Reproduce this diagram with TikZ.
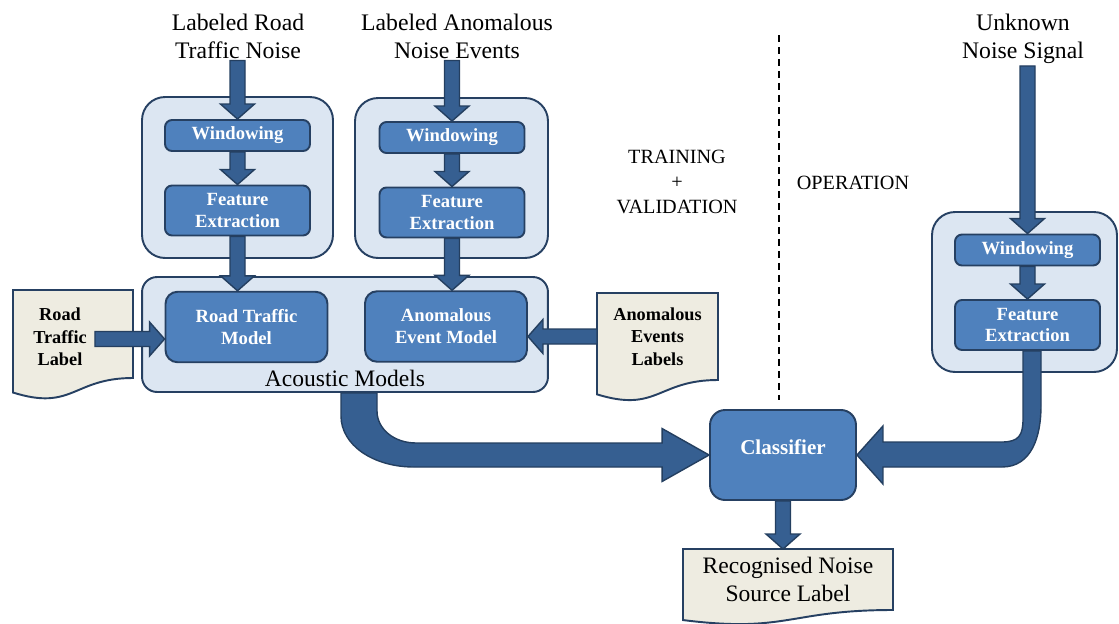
\documentclass[tikz,border=0pt]{standalone}
\usepackage{fontspec}
\setmainfont{Liberation Serif}
\usetikzlibrary{positioning, calc, backgrounds}

\definecolor{grpfill}{RGB}{220,230,242}
\definecolor{grpline}{RGB}{38,64,98}
\definecolor{boxfill}{RGB}{79,129,189}
\definecolor{boxline}{RGB}{38,64,98}
\definecolor{arrfill}{RGB}{54,95,145}
\definecolor{arrline}{RGB}{36,63,96}
\definecolor{docfill}{RGB}{238,236,225}

% block arrow from #1 to #2 (tip at #2)
\newcommand{\blk}[2]{%
  \path[blockarrow] let \p1=(#1), \p2=(#2),
      \n1={atan2(\y2-\y1,\x2-\x1)}, \n2={veclen(\x2-\x1,\y2-\y1)} in
    [shift={(\p1)}, rotate=\n1]
    (0pt,-0.15cm) -- (\n2-0.3cm,-0.15cm) -- (\n2-0.3cm,-0.34cm) -- (\n2,0pt)
    -- (\n2-0.3cm,0.34cm) -- (\n2-0.3cm,0.15cm) -- (0pt,0.15cm) -- cycle;}

\begin{document}
\begin{tikzpicture}[x=0.02cm, y=-0.02cm, on grid,
    grp/.style={draw=grpline, fill=grpfill, line width=1.1pt, inner sep=0pt},
    blok/.style={draw=boxline, fill=boxfill, line width=1.1pt, text=white,
      font=\bfseries\fontsize{10.6}{12.5}\selectfont, align=center, inner sep=0pt},
    winbox/.style={blok, rounded corners=0.14cm, minimum width=2.9cm, minimum height=0.62cm},
    febox/.style={blok, rounded corners=0.14cm, minimum width=2.9cm, minimum height=1cm},
    modbox/.style={blok, rounded corners=0.24cm, minimum width=3.24cm, minimum height=1.41cm},
    doc/.style={draw=none, outer sep=0pt, inner sep=0pt, align=center,
      font=\bfseries\fontsize{10.4}{12.8}\selectfont},
    doctext/.style={align=center, inner sep=0pt, font=\bfseries\fontsize{10.4}{12.8}\selectfont},
    docshape/.style={draw=grpline, fill=docfill, line width=1.1pt},
    toplbl/.style={align=center, inner sep=1pt, font=\fontsize{13.5}{16}\selectfont},
    phase/.style={align=center, font=\fontsize{11.5}{14}\selectfont},
    blockarrow/.style={draw=arrline, fill=arrfill, line width=0.8pt, line join=miter},
    divider/.style={line width=1pt, dash pattern=on 0.14cm off 0.1cm}]

  \useasboundingbox (0,0) rectangle (1119,623);

  % groups
  \node[grp, rounded corners=0.46cm, minimum width=3.82cm, minimum height=3.22cm] (grp1) at (237.5,177.5) {};
  \node[grp, rounded corners=0.46cm, minimum width=3.86cm, minimum height=3.2cm] (grp2) at (451.5,178) {};
  \node[grp, rounded corners=0.46cm, minimum width=3.7cm, minimum height=3.2cm] (grp3) at (1024.5,292) {};
  \node[grp, rounded corners=0.3cm, minimum width=8.12cm, minimum height=2.3cm] (models) at (345,334.5) {};

  % inputs
  \node[toplbl] (lrt) at (238,36) {Labeled Road\\Traffic Noise};
  \node[toplbl] (lae) at (457,36) {Labeled Anomalous\\Noise Events};
  \node[toplbl] (uns) at (1023,39) {Unknown\\Noise Signal};

  % front ends
  \node[winbox] (win1) at (237.5,135.5) {Windowing};
  \node[febox] (fe1) [below=1.5cm of win1] {Feature\\Extraction};
  \node[winbox] (win2) at (452,137.5) {Windowing};
  \node[febox] (fe2) [below=1.5cm of win2] {Feature\\Extraction};
  \node[winbox] (win3) at (1027.5,250) {Windowing};
  \node[febox] (fe3) [below=1.5cm of win3] {Feature\\Extraction};

  % models
  \node[modbox] (rtm) at (246.5,327) {Road Traffic\\Model};
  \node[modbox] (aem) at (446,326.5) {Anomalous\\Event Model};
  \node[font=\fontsize{13.4}{15}\selectfont] (amlbl) at ($(models.south)+(0,-15)$) {Acoustic Models};

  \node[blok, rounded corners=0.3cm, minimum width=2.92cm, minimum height=1.8cm,
    font=\bfseries\fontsize{12}{14}\selectfont, text depth=9.5pt] (clf) at (783,455) {Classifier};

  % documents
  \node[doc, minimum width=2.4cm, minimum height=1.76cm] (rtl) at (73,334) {};
  \node[doctext] (rtltxt) at ($(rtl.center)+(-13,3)$) {Road\\Traffic\\Label};
  \node[doc, minimum width=2.42cm, minimum height=1.74cm] (ael) at (657.5,336.5) {Anomalous\\Events\\Labels};
  \node[doc, minimum width=4.2cm, minimum height=1.22cm,
    font=\fontsize{13.4}{16.4}\selectfont] (out) at (788,579.5) {Recognised Noise\\Source Label};
  \begin{scope}[on background layer]
    \foreach \d in {rtl,ael,out}
      \path[docshape] (\d.north west) -- (\d.north east) -- (\d.south east)
        .. controls (\d.south) and ($(\d.south)!-0.38!(\d.north)$)
        .. ($(\d.south west)!-0.165!(\d.north west)$) -- cycle;
  \end{scope}

  \node[phase] (train) at (677,182) {TRAINING\\+\\VALIDATION};
  \node[phase] (oper) at (853,183) {OPERATION};
  \draw[divider] (779,35) -- (779,400);

  % arrows
  \blk{lrt.south -| win1.north}{win1.north}
  \blk{win1.south}{fe1.north}
  \blk{fe1.south}{fe1.south |- rtm.north}
  \blk{lae.south -| win2.north}{win2.north}
  \blk{win2.south}{fe2.north}
  \blk{fe2.south}{fe2.south |- aem.north}
  \blk{uns.south -| win3.north}{win3.north}
  \blk{win3.south}{fe3.north}
  \coordinate (rtlout) at ($(rtl.east)+(-38,5)$);
  \blk{rtlout}{rtlout -| rtm.west}
  \blk{ael.west}{ael.west -| aem.east}
  \blk{clf.south}{clf.south |- out.north}

  \path[blockarrow] ($(models.south)+(-4,0)$) -- ($(models.south)+(-4,23)$)
    .. controls ($(models.south)+(-4,52)$) and ($(clf.west)+(-336,12)$) .. ($(clf.west)+(-295,12)$)
    -- ($(clf.west)+(-47,12)$) -- ($(clf.west)+(-47,26.5)$) -- (clf.west)
    -- ($(clf.west)+(-47,-26.5)$) -- ($(clf.west)+(-47,-12)$) -- ($(clf.west)+(-293,-12)$)
    .. controls ($(clf.west)+(-315,-12)$) and ($(models.south)+(32,36)$) .. ($(models.south)+(32,18)$)
    -- ($(models.south)+(32,0)$) -- cycle;
  \path[blockarrow] ($(fe3.south)+(-4.5,0)$) -- ($(fe3.south)+(-4.5,68)$)
    .. controls ($(fe3.south)+(-4.5,84)$) and ($(clf.east)+(162,-13)$) .. ($(clf.east)+(145,-13)$)
    -- ($(clf.east)+(26,-13)$) -- ($(clf.east)+(26,-29)$) -- (clf.east)
    -- ($(clf.east)+(26,29)$) -- ($(clf.east)+(26,12)$) -- ($(clf.east)+(145,12)$)
    .. controls ($(clf.east)+(175,12)$) and ($(fe3.south)+(13.5,85)$) .. ($(fe3.south)+(13.5,55)$)
    -- ($(fe3.south)+(13.5,0)$) -- cycle;
\end{tikzpicture}
\end{document}
